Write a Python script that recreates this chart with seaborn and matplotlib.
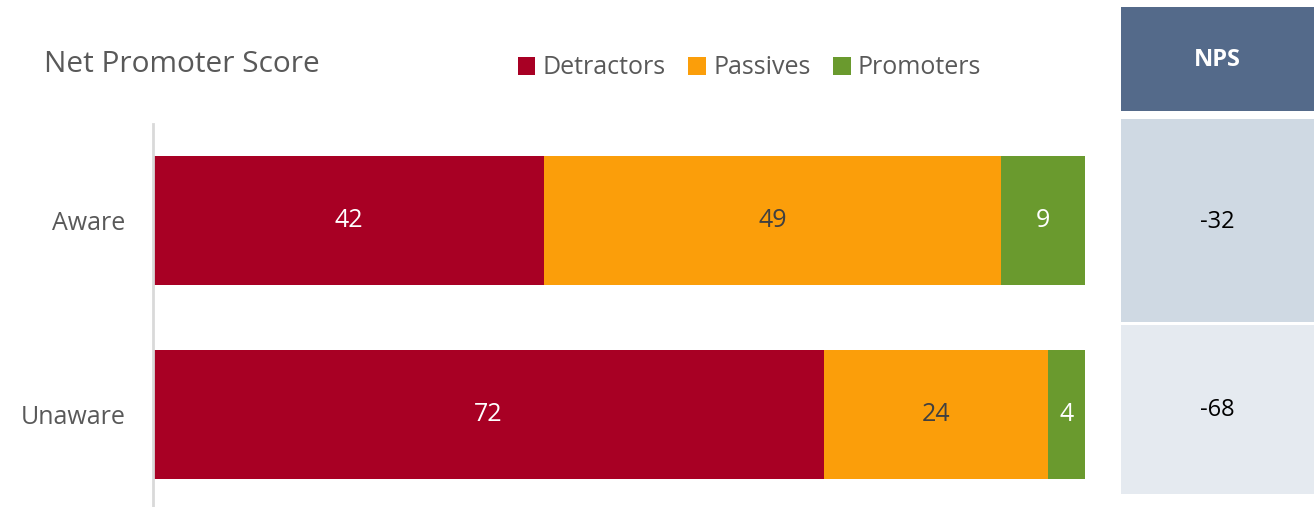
import matplotlib
matplotlib.use("Agg")
import matplotlib.pyplot as plt
import seaborn as sns
import pandas as pd
from matplotlib.patches import Rectangle, Patch

# Survey data
groups = ["Aware", "Unaware"]
detractors = [42, 72]
passives = [49, 24]
promoters = [9, 4]
nps = [-32, -68]

series_names = ["Detractors", "Passives", "Promoters"]
colors = {"Detractors": "#A80024", "Passives": "#FB9E0A", "Promoters": "#6A9A2E"}
label_colors = {"Detractors": "white", "Passives": "#404040", "Promoters": "white"}

sns.set_theme(style="white")
plt.rcParams["font.family"] = ["Open Sans", "DejaVu Sans"]

W, H = 1314, 507
fig = plt.figure(figsize=(W / 100, H / 100), dpi=100)

# Main stacked bar axes
ax = fig.add_axes([153 / W, 0, (1085 - 153) / W, (507 - 124) / H])

df = pd.DataFrame({"group": groups, "Detractors": detractors,
                   "Passives": passives, "Promoters": promoters})
df["cum_d"] = df["Detractors"]
df["cum_p"] = df["Detractors"] + df["Passives"]
df["cum_all"] = df["cum_p"] + df["Promoters"]

# Stacked bars: draw cumulative totals from widest to narrowest
for col, name in [("cum_all", "Promoters"), ("cum_p", "Passives"), ("cum_d", "Detractors")]:
    sns.barplot(data=df, x=col, y="group", orient="h", color=colors[name],
                saturation=1, width=0.665, ax=ax, order=groups, linewidth=0)

# Segment value labels
for i, g in enumerate(groups):
    left = 0
    for name in series_names:
        v = df.loc[i, name]
        ax.text(left + v / 2, i, f"{v}", ha="center", va="center",
                fontsize=18, color=label_colors[name])
        left += v

ax.set_xlim(0, 100)
ax.set_ylim(1.477, -0.497)
ax.set_xlabel("")
ax.set_ylabel("")
ax.set_xticks([])
ax.tick_params(axis="y", length=0, pad=20, labelsize=18, labelcolor="#595959")
for s in ["top", "right", "bottom"]:
    ax.spines[s].set_visible(False)
ax.spines["left"].set_color("#D9D9D9")
ax.spines["left"].set_linewidth(2)

# Title and legend
fig.text(44 / W, 1 - 65 / H, "Net Promoter Score", fontsize=21.5,
         color="#595959", ha="left", va="center")
handles = [Patch(facecolor=colors[n], edgecolor="none") for n in series_names]
fig.legend(handles, series_names, loc="center left",
           bbox_to_anchor=(495 / W, 1 - 68 / H), ncol=3, frameon=False,
           fontsize=18, labelcolor="#595959", handlelength=0.7,
           handleheight=0.7, handletextpad=0.3, columnspacing=0.9)

# NPS summary column
tax = fig.add_axes([1121 / W, 0, (W - 1121) / W, 1])
tax.set_xlim(0, 1)
tax.set_ylim(H, 0)
tax.axis("off")
tax.add_patch(Rectangle((0, 7), 1, 104, facecolor="#546A8A", edgecolor="none"))
tax.text(0.5, 60, "NPS", ha="center", va="center", fontsize=17,
         fontweight="bold", color="white")
cells = [(119, 203, "#CFD9E3"), (325, 169, "#E5EAF0")]
for (top, h, c), val in zip(cells, nps):
    tax.add_patch(Rectangle((0, top), 1, h, facecolor=c, edgecolor="none"))
    tax.text(0.5, top + h / 2 + 1, f"{val}", ha="center", va="center",
             fontsize=17, color="black")

fig.savefig("out.png", dpi=100)
